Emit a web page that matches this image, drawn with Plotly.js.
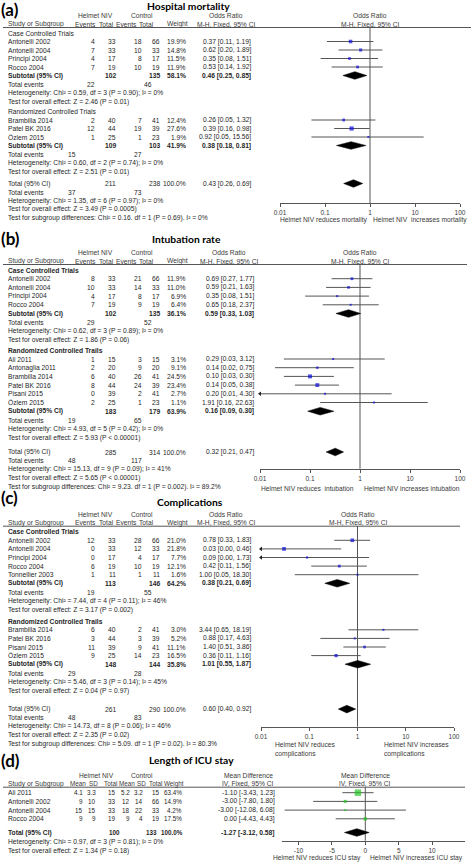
<!DOCTYPE html>
<html>
<head>
<meta charset="utf-8">
<script src="https://cdn.plot.ly/plotly-3.0.1.min.js"></script>
<style>
html,body{margin:0;padding:0;background:#fff;}
#chart{width:472px;height:862px;}
</style>
</head>
<body>
<div id="chart"></div>
<script>
/* ================= DATA ================= */
// (a) Hospital mortality
const mortStudies = ['Antonelli 2002','Antonelli 2004','Principi 2004','Rocco 2004','Brambilla 2014','Patel BK 2016','Özlem 2015'];
const mortGroupNames = ['Case Controlled Trials','Randomized Controlled Trials'];
const mortGroupSizes = [4,3];
const mortHelmetEvents = [4,7,4,7,2,12,1];
const mortHelmetTotal = [33,33,17,19,40,44,25];
const mortControlEvents = [18,10,8,10,7,19,1];
const mortControlTotal = [66,33,17,19,41,39,23];
const mortWeight = [19.9,14.8,11.5,11.9,12.4,27.6,1.9];
const mortOR = [0.37,0.62,0.35,0.53,0.26,0.39,0.92];
const mortLow = [0.11,0.20,0.08,0.14,0.05,0.16,0.05];
const mortHigh = [1.19,1.89,1.51,1.92,1.32,0.98,15.56];
const mortSubHelmetTotal = [102,109];
const mortSubControlTotal = [135,103];
const mortSubWeight = [58.1,41.9];
const mortSubOR = [0.46,0.38];
const mortSubLow = [0.25,0.18];
const mortSubHigh = [0.85,0.81];
const mortSubHelmetEvents = [22,15];
const mortSubControlEvents = [46,27];
const mortSubHet = ['Chi² = 0.59, df = 3 (P = 0.90); I² = 0%','Chi² = 0.60, df = 2 (P = 0.74); I² = 0%'];
const mortSubZ = ['Z = 2.46 (P = 0.01)','Z = 2.51 (P = 0.01)'];
const mortTotalN = [211,238];
const mortTotalWeight = 100;
const mortTotalEvents = [37,73];
const mortTotalEffect = [0.43,0.26,0.69];
const mortTotalHet = 'Chi² = 1.35, df = 6 (P = 0.97); I² = 0%';
const mortTotalZ = 'Z = 3.49 (P = 0.0005)';
const mortSubgroupDiff = 'Chi² = 0.16. df = 1 (P = 0.69). I² = 0%';
const mortDirection = ['Helmet NIV reduces mortality','Helmet NIV  increases mortality'];

// (b) Intubation rate
const intubStudies = ['Antonelli 2002','Antonelli 2004','Principi 2004','Rocco 2004','Ali 2011','Antonaglia 2011','Brambilla 2014','Patel BK 2016','Pisani 2015','Özlem 2015'];
const intubGroupNames = ['Case Controlled Trials','Randomized Controlled Trails'];
const intubGroupSizes = [4,6];
const intubHelmetEvents = [8,10,4,7,1,2,6,8,0,2];
const intubHelmetTotal = [33,33,17,19,15,20,40,44,39,25];
const intubControlEvents = [21,14,8,9,3,9,26,24,2,1];
const intubControlTotal = [66,33,17,19,15,20,41,39,41,23];
const intubWeight = [11.9,11.0,6.9,6.4,3.1,9.1,24.5,23.4,2.7,1.1];
const intubOR = [0.69,0.59,0.35,0.65,0.29,0.14,0.10,0.14,0.20,1.91];
const intubLow = [0.27,0.21,0.08,0.18,0.03,0.02,0.03,0.05,0.01,0.16];
const intubHigh = [1.77,1.63,1.51,2.37,3.12,0.75,0.30,0.38,4.30,22.63];
const intubSubHelmetTotal = [102,183];
const intubSubControlTotal = [135,179];
const intubSubWeight = [36.1,63.9];
const intubSubOR = [0.59,0.16];
const intubSubLow = [0.33,0.09];
const intubSubHigh = [1.03,0.30];
const intubSubHelmetEvents = [29,19];
const intubSubControlEvents = [52,65];
const intubSubHet = ['Chi² = 0.62, df = 3 (P = 0.89); I² = 0%','Chi² = 4.93, df = 5 (P = 0.42); I² = 0%'];
const intubSubZ = ['Z = 1.86 (P = 0.06)','Z = 5.93 (P < 0.00001)'];
const intubTotalN = [285,314];
const intubTotalWeight = 100;
const intubTotalEvents = [48,117];
const intubTotalEffect = [0.32,0.21,0.47];
const intubTotalHet = 'Chi² = 15.13, df = 9 (P = 0.09); I² = 41%';
const intubTotalZ = 'Z = 5.65 (P < 0.00001)';
const intubSubgroupDiff = 'Chi² = 9.23. df = 1 (P = 0.002). I² = 89.2%';
const intubDirection = ['Helmet NIV reduces  intubation','Helmet NIV increases intubation'];

// (c) Complications
const compStudies = ['Antonelli 2002','Antonelli 2004','Principi 2004','Rocco 2004','Tonnellier 2003','Brambilla 2014','Patel BK 2016','Pisani 2015','Özlem 2015'];
const compGroupNames = ['Case Controlled Trials','Randomized Controlled Trails'];
const compGroupSizes = [5,4];
const compHelmetEvents = [12,0,0,6,1,6,3,11,9];
const compHelmetTotal = [33,33,17,19,11,40,44,39,25];
const compControlEvents = [28,12,4,10,1,2,3,9,14];
const compControlTotal = [66,33,17,19,11,41,39,41,23];
const compWeight = [21.0,21.8,7.7,12.1,1.6,3.0,5.2,11.1,16.5];
const compOR = [0.78,0.03,0.09,0.42,1.00,3.44,0.88,1.40,0.36];
const compLow = [0.33,0.00,0.00,0.11,0.05,0.65,0.17,0.51,0.11];
const compHigh = [1.83,0.46,1.73,1.56,18.30,18.19,4.63,3.86,1.16];
const compSubHelmetTotal = [113,148];
const compSubControlTotal = [146,144];
const compSubWeight = [64.2,35.8];
const compSubOR = [0.38,1.01];
const compSubLow = [0.21,0.55];
const compSubHigh = [0.69,1.87];
const compSubHelmetEvents = [19,29];
const compSubControlEvents = [55,28];
const compSubHet = ['Chi² = 7.44, df = 4 (P = 0.11); I² = 46%','Chi² = 5.46, df = 3 (P = 0.14); I² = 45%'];
const compSubZ = ['Z = 3.17 (P = 0.002)','Z = 0.04 (P = 0.97)'];
const compTotalN = [261,290];
const compTotalWeight = 100;
const compTotalEvents = [48,83];
const compTotalEffect = [0.60,0.40,0.92];
const compTotalHet = 'Chi² = 14.73, df = 8 (P = 0.06); I² = 46%';
const compTotalZ = 'Z = 2.35 (P = 0.02)';
const compSubgroupDiff = 'Chi² = 5.09. df = 1 (P = 0.02). I² = 80.3%';
const compDirection = ['Helmet NIV reduces','complications','Helmet NIV increases','complications'];

// (d) Length of ICU stay
const icuStudies = ['Ali 2011','Antonelli 2002','Antonelli 2004','Rocco 2004'];
const icuHelmetMean = [4.1,9,15,9];
const icuHelmetSD = [3.3,10,15,9];
const icuHelmetTotal = [15,33,33,19];
const icuControlMean = [5.2,12,18,9];
const icuControlSD = [3.2,14,22,4];
const icuControlTotal = [15,66,33,19];
const icuWeight = [63.4,14.9,4.2,17.5];
const icuMD = [-1.10,-3.00,-3.00,0.00];
const icuLow = [-3.43,-7.80,-12.08,-4.43];
const icuHigh = [1.23,1.80,6.08,4.43];
const icuTotalN = [100,133];
const icuTotalWeight = 100;
const icuTotalEffect = [-1.27,-3.12,0.58];
const icuTotalHet = 'Chi² = 0.97, df = 3 (P = 0.81); I² = 0%';
const icuTotalZ = 'Z = 1.34 (P = 0.18)';
const icuDirection = ['Helmet NIV reduces ICU stay','Helmet NIV increases ICU stay'];

// axis ticks
const orTickVals = [0.01,0.1,1,10,100];
const orTickText = ['0.01','0.1','1','10','100'];
const mdTickVals = [-10,-5,0,5,10];
const mdTickText = ['-10','-5','0','5','10'];

/* ================= LAYOUT CONFIG ================= */
const W = 472, H = 862;
const FONT = '"Liberation Sans", Arial, sans-serif';
const TFONT = 'Lato, "Liberation Sans", sans-serif';
const FS = 6.7, FSD = 6.3;
const DH = 3.8;          // diamond half height (px)
const OR_MIN = 0.01, OR_MAX = 100;
const TE_X = [[96,153],[77,143]];

const cfgA = {label:'(a)', labelY:9, title:'Hospital mortality', titleX:188, titleY:5.5,
  top:33, step:8.5, subGap:0.5, groupGap:1.5, totalGap:3.5, groupBold:false,
  axisY:203, axisL:280, axisR:460, lineEnd:471, estRight:252,
  dirY:220, dirX:[324,420], xa:'x', sq:'#0c0cd8'};
const cfgB = {label:'(b)', labelY:238.5, title:'Intubation rate', titleX:186, titleY:239,
  top:270, step:8.7, subGap:0.5, groupGap:1.5, totalGap:5.5, groupBold:true,
  axisY:468.7, axisL:260, axisR:460, lineEnd:467, estRight:255,
  dirY:488.3, dirX:[307.5,411.7], xa:'x2', sq:'#0c0cd8'};
const cfgC = {label:'(c)', labelY:497, title:'Complications', titleX:190, titleY:502.3,
  top:531.7, step:8.6, subGap:0.5, groupGap:3, totalGap:10, groupBold:true,
  axisY:726.7, axisL:261, axisR:454, lineEnd:460, estRight:252,
  dirY:744, dirY2:754, dirLeftX:[274,383], xa:'x3', sq:'#0c0cd8'};
const cfgD = {label:'(d)', labelY:760, title:'Length of ICU stay', titleX:191, titleY:760,
  top:792.7, step:8.7, totalGap:5,
  axisY:840.7, axisL:282, axisR:465, zeroX:365.3, unitPx:6.68, lineEnd:465, estRight:276,
  dirY:857.7, dirX:[317,416.7], xa:'x4', sq:'#22c422'};

/* ================= BUILD ================= */
const annotations = [], shapes = [], traces = [];
function esc(s){ return String(s).replace(/&/g,'&amp;').replace(/</g,'&lt;').replace(/>/g,'&gt;'); }
function txt(x, y, s, anchor, o) {
  o = o || {};
  let t = esc(s);
  if (o.bold) t = '<b>' + t + '</b>';
  annotations.push({xref:'paper', yref:'y', x:x/W, y:y, text:t, showarrow:false,
    xanchor:anchor || 'left', yanchor:'middle', borderpad:0,
    font:{family:o.family || FONT, size:o.size || FS, color:o.color || '#262626'}});
}
const f2 = v => v.toFixed(2);
const pct = v => v.toFixed(1) + '%';
const ciText = (e,l,h) => f2(e) + ' [' + f2(l) + ', ' + f2(h) + ']';
const HC = {color:'#3a3a3a'};

function panelHead(c) {
  txt(0, c.labelY, c.label, 'left', {bold:true, size:17, family:TFONT, color:'#000'});
  txt(c.titleX, c.titleY, c.title, 'center', {bold:true, size:10.3, family:TFONT, color:'#000'});
}
function hline(c, y) {
  shapes.push({type:'line', xref:'paper', yref:'y', x0:3/W, x1:c.lineEnd/W, y0:y, y1:y,
    line:{color:'#555', width:1}});
}
function pushForest(c, seg, sq, arr, dias, nullVal, y0) {
  const common = {type:'scatter', xaxis:c.xa, yaxis:'y', hoverinfo:'skip'};
  traces.push(Object.assign({}, common, {mode:'lines', x:[nullVal,nullVal], y:[y0, c.axisY], line:{color:'#555', width:1}}));
  traces.push(Object.assign({}, common, {mode:'lines', x:seg.x, y:seg.y, connectgaps:false, line:{color:'#555', width:1}}));
  traces.push(Object.assign({}, common, {mode:'markers', x:sq.x, y:sq.y, cliponaxis:false,
    marker:{symbol:'square', size:sq.s, color:c.sq, line:{width:0}}}));
  if (arr.x.length) traces.push(Object.assign({}, common, {mode:'markers', x:arr.x, y:arr.y, cliponaxis:false,
    marker:{symbol:'triangle-left', size:4, color:'#222', line:{width:0}}}));
  dias.forEach(([e,l,h,yy]) => traces.push(Object.assign({}, common, {mode:'lines',
    x:[l,e,h,e,l], y:[yy,yy-DH,yy,yy+DH,yy], fill:'toself', fillcolor:'#000', line:{color:'#000', width:0.5}})));
}

function orPanel(c, d) {
  const S = c.step, first = c.top;
  const h1 = first - 17.5, h2 = first - 8.8, hl = first - 5.5;
  const nullX = (c.axisL + c.axisR) / 2;
  const estC = c.estRight - 26;
  panelHead(c);
  txt(95, h1, 'Helmet NIV', 'center', HC);
  txt(142, h1, 'Control', 'center', HC);
  txt(estC, h1, 'Odds Ratio', 'center', HC);
  txt(nullX, h1, 'Odds Ratio', 'center', HC);
  txt(7, h2, 'Study or Subgroup', 'left', HC);
  txt(85, h2, 'Events', 'center', HC);
  txt(106, h2, 'Total', 'center', HC);
  txt(126, h2, 'Events', 'center', HC);
  txt(146, h2, 'Total', 'center', HC);
  txt(177, h2, 'Weight', 'center', HC);
  txt(estC, h2, 'M-H, Fixed, 95% CI', 'center', HC);
  txt(nullX, h2, 'M-H, Fixed, 95% CI', 'center', HC);
  hline(c, hl);

  const seg = {x:[], y:[]}, sq = {x:[], y:[], s:[]}, arr = {x:[], y:[]}, dias = [];
  let y = first, k = 0;
  d.groupSizes.forEach((n, g) => {
    if (g > 0) y += S + c.groupGap;
    txt(7, y, d.groupNames[g], 'left', {bold:c.groupBold});
    for (let i = 0; i < n; i++, k++) {
      y += S;
      txt(7, y, d.studies[k]);
      txt(96, y, d.he[k], 'right');
      txt(117, y, d.ht[k], 'right');
      txt(143, y, d.ce[k], 'right');
      txt(161, y, d.ct[k], 'right');
      txt(187, y, pct(d.w[k]), 'right');
      txt(c.estRight, y, ciText(d.est[k], d.lo[k], d.hi[k]), 'right');
      const lo = Math.max(d.lo[k], OR_MIN), hi = Math.min(d.hi[k], OR_MAX);
      seg.x.push(lo, hi, null); seg.y.push(y, y, null);
      if (d.lo[k] <= OR_MIN) { arr.x.push(OR_MIN); arr.y.push(y); }
      sq.x.push(d.est[k]); sq.y.push(y); sq.s.push(Math.max(2, 0.8 * Math.sqrt(d.w[k])));
    }
    y += S;
    const B = {bold:true};
    txt(7, y, 'Subtotal (95% CI)', 'left', B);
    txt(117, y, d.sht[g], 'right', B);
    txt(161, y, d.sct[g], 'right', B);
    txt(187, y, pct(d.sw[g]), 'right', B);
    txt(c.estRight, y, ciText(d.sest[g], d.slo[g], d.shi[g]), 'right', B);
    dias.push([d.sest[g], d.slo[g], d.shi[g], y]);
    y += S + c.subGap;
    const tx = TE_X[g === 0 ? 0 : 1];
    txt(7, y, 'Total events');
    txt(tx[0], y, d.she[g], 'right');
    txt(tx[1], y, d.sce[g], 'right');
    y += S; txt(7, y, 'Heterogeneity: ' + d.shet[g]);
    y += S; txt(7, y, 'Test for overall effect: ' + d.sz[g]);
  });
  y += S + c.totalGap;
  txt(7, y, 'Total (95% CI)');
  txt(117, y, d.tn[0], 'right');
  txt(161, y, d.tn[1], 'right');
  txt(187, y, pct(d.tw), 'right');
  txt(c.estRight, y, ciText(d.te[0], d.te[1], d.te[2]), 'right');
  dias.push([d.te[0], d.te[1], d.te[2], y]);
  y += S; txt(7, y, 'Total events'); txt(TE_X[1][0], y, d.tev[0], 'right'); txt(TE_X[1][1], y, d.tev[1], 'right');
  y += S; txt(7, y, 'Heterogeneity: ' + d.thet);
  y += S; txt(7, y, 'Test for overall effect: ' + d.tz);
  y += S; txt(7, y, 'Test for subgroup differences: ' + d.sgd);

  const DC = {color:'#3a3a3a'};
  if (c.dirLeftX) {
    txt(c.dirLeftX[0], c.dirY, d.dir[0], 'left', DC);
    txt(c.dirLeftX[0], c.dirY2, d.dir[1], 'left', DC);
    txt(c.dirLeftX[1], c.dirY, d.dir[2], 'left', DC);
    txt(c.dirLeftX[1], c.dirY2, d.dir[3], 'left', DC);
  } else {
    txt(c.dirX[0], c.dirY, d.dir[0], 'center', DC);
    txt(c.dirX[1], c.dirY, d.dir[1], 'center', DC);
  }
  pushForest(c, seg, sq, arr, dias, 1, hl);
}

function mdPanel(c) {
  const S = c.step, first = c.top;
  const h1 = first - 17.5, h2 = first - 8.8, hl = first - 5.5;
  const estC = c.estRight - 28;
  const HD = {color:'#3a3a3a', size:FSD}, N = {size:FSD}, NB = {size:FSD, bold:true};
  panelHead(c);
  txt(96, h1, 'Helmet NIV', 'center', HC);
  txt(142, h1, 'Control', 'center', HC);
  txt(estC, h1, 'Mean Difference', 'center', HC);
  txt(c.zeroX, h1, 'Mean Difference', 'center', HC);
  txt(7, h2, 'Study or Subgroup', 'left', HC);
  txt(78, h2, 'Mean', 'center', HD);
  txt(93, h2, 'SD', 'center', HD);
  txt(110, h2, 'Total', 'center', HD);
  txt(127, h2, 'Mean', 'center', HD);
  txt(141, h2, 'SD', 'center', HD);
  txt(155, h2, 'Total', 'center', HD);
  txt(174, h2, 'Weight', 'center', HD);
  txt(estC, h2, 'IV, Fixed, 95% CI', 'center', HC);
  txt(c.zeroX, h2, 'IV, Fixed, 95% CI', 'center', HC);
  hline(c, hl);

  const seg = {x:[], y:[]}, sq = {x:[], y:[], s:[]}, arr = {x:[], y:[]}, dias = [];
  let y = first - S;
  icuStudies.forEach((name, k) => {
    y += S;
    txt(7, y, name);
    txt(84, y, icuHelmetMean[k], 'right', N);
    txt(97, y, icuHelmetSD[k], 'right', N);
    txt(117, y, icuHelmetTotal[k], 'right', N);
    txt(131, y, icuControlMean[k], 'right', N);
    txt(144, y, icuControlSD[k], 'right', N);
    txt(161, y, icuControlTotal[k], 'right', N);
    txt(183, y, pct(icuWeight[k]), 'right', N);
    txt(c.estRight, y, ciText(icuMD[k], icuLow[k], icuHigh[k]), 'right');
    seg.x.push(icuLow[k], icuHigh[k], null); seg.y.push(y, y, null);
    sq.x.push(icuMD[k]); sq.y.push(y); sq.s.push(Math.max(2, 0.8 * Math.sqrt(icuWeight[k])));
  });
  y += S + c.totalGap;
  txt(7, y, 'Total (95% CI)', 'left', {bold:true});
  txt(121, y, icuTotalN[0], 'right', NB);
  txt(157.5, y, icuTotalN[1], 'right', NB);
  txt(184, y, pct(icuTotalWeight), 'right', NB);
  txt(c.estRight, y, ciText(icuTotalEffect[0], icuTotalEffect[1], icuTotalEffect[2]), 'right', {bold:true});
  dias.push([icuTotalEffect[0], icuTotalEffect[1], icuTotalEffect[2], y]);
  y += S + 1; txt(7, y, 'Heterogeneity: ' + icuTotalHet);
  y += S; txt(7, y, 'Test for overall effect: ' + icuTotalZ);
  const DC = {color:'#3a3a3a'};
  txt(c.dirX[0], c.dirY, icuDirection[0], 'center', DC);
  txt(c.dirX[1], c.dirY, icuDirection[1], 'center', DC);
  pushForest(c, seg, sq, arr, dias, 0, hl);
}

orPanel(cfgA, {studies:mortStudies, groupNames:mortGroupNames, groupSizes:mortGroupSizes,
  he:mortHelmetEvents, ht:mortHelmetTotal, ce:mortControlEvents, ct:mortControlTotal, w:mortWeight,
  est:mortOR, lo:mortLow, hi:mortHigh, sht:mortSubHelmetTotal, sct:mortSubControlTotal, sw:mortSubWeight,
  sest:mortSubOR, slo:mortSubLow, shi:mortSubHigh, she:mortSubHelmetEvents, sce:mortSubControlEvents,
  shet:mortSubHet, sz:mortSubZ, tn:mortTotalN, tw:mortTotalWeight, tev:mortTotalEvents, te:mortTotalEffect,
  thet:mortTotalHet, tz:mortTotalZ, sgd:mortSubgroupDiff, dir:mortDirection});
orPanel(cfgB, {studies:intubStudies, groupNames:intubGroupNames, groupSizes:intubGroupSizes,
  he:intubHelmetEvents, ht:intubHelmetTotal, ce:intubControlEvents, ct:intubControlTotal, w:intubWeight,
  est:intubOR, lo:intubLow, hi:intubHigh, sht:intubSubHelmetTotal, sct:intubSubControlTotal, sw:intubSubWeight,
  sest:intubSubOR, slo:intubSubLow, shi:intubSubHigh, she:intubSubHelmetEvents, sce:intubSubControlEvents,
  shet:intubSubHet, sz:intubSubZ, tn:intubTotalN, tw:intubTotalWeight, tev:intubTotalEvents, te:intubTotalEffect,
  thet:intubTotalHet, tz:intubTotalZ, sgd:intubSubgroupDiff, dir:intubDirection});
orPanel(cfgC, {studies:compStudies, groupNames:compGroupNames, groupSizes:compGroupSizes,
  he:compHelmetEvents, ht:compHelmetTotal, ce:compControlEvents, ct:compControlTotal, w:compWeight,
  est:compOR, lo:compLow, hi:compHigh, sht:compSubHelmetTotal, sct:compSubControlTotal, sw:compSubWeight,
  sest:compSubOR, slo:compSubLow, shi:compSubHigh, she:compSubHelmetEvents, sce:compSubControlEvents,
  shet:compSubHet, sz:compSubZ, tn:compTotalN, tw:compTotalWeight, tev:compTotalEvents, te:compTotalEffect,
  thet:compTotalHet, tz:compTotalZ, sgd:compSubgroupDiff, dir:compDirection});
mdPanel(cfgD);

function axisCommon(c) {
  return {domain:[c.axisL/W, c.axisR/W], anchor:'free', position:1 - c.axisY/H,
    ticks:'outside', ticklen:3, tickcolor:'#555', tickwidth:1,
    showline:true, linecolor:'#555', linewidth:1, showgrid:false, zeroline:false,
    tickfont:{family:FONT, size:6.5, color:'#3a3a3a'}, fixedrange:true};
}
function logAxis(c) {
  return Object.assign(axisCommon(c), {type:'log', range:[Math.log10(OR_MIN), Math.log10(OR_MAX)],
    tickmode:'array', tickvals:orTickVals, ticktext:orTickText});
}
function mdAxis(c) {
  return Object.assign(axisCommon(c), {type:'linear',
    range:[(c.axisL - c.zeroX)/c.unitPx, (c.axisR - c.zeroX)/c.unitPx],
    tickmode:'array', tickvals:mdTickVals, ticktext:mdTickText});
}

const layout = {
  width:W, height:H, margin:{l:0, r:0, t:0, b:0},
  paper_bgcolor:'#fff', plot_bgcolor:'rgba(0,0,0,0)',
  showlegend:false, hovermode:false,
  yaxis:{domain:[0,1], range:[H,0], visible:false, fixedrange:true},
  xaxis:logAxis(cfgA), xaxis2:logAxis(cfgB), xaxis3:logAxis(cfgC), xaxis4:mdAxis(cfgD),
  annotations:annotations, shapes:shapes
};
Plotly.newPlot('chart', traces, layout, {staticPlot:true, displayModeBar:false});
</script>
</body>
</html>
